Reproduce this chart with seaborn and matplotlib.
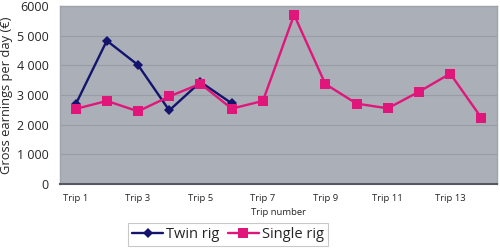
import matplotlib
matplotlib.use("Agg")
import matplotlib.pyplot as plt
import seaborn as sns
import pandas as pd
from matplotlib.ticker import FuncFormatter

trips = [f"Trip {i}" for i in range(1, 15)]
twin_rig = [2680, 4830, 4010, 2480, 3440, 2720]
single_rig = [2530, 2800, 2450, 2950, 3380, 2540, 2800, 5700, 3370, 2710, 2550, 3110, 3720, 2230]

sns.set_theme(style="white")
plt.rcParams['font.family'] = ['Open Sans', 'DejaVu Sans']

df_twin = pd.DataFrame({"trip": trips[:len(twin_rig)], "value": twin_rig})
df_single = pd.DataFrame({"trip": trips, "value": single_rig})

fig = plt.figure(figsize=(5.0, 2.49), dpi=100)
ax = fig.add_axes([0.12, 0.261, 0.874, 0.715])
ax.set_facecolor("#AAAFB8")

sns.lineplot(data=df_single, x="trip", y="value", ax=ax, color="#E0167A",
             marker="s", markersize=7, markeredgewidth=0, linewidth=1.7,
             label="Single rig", sort=False, zorder=3)
sns.lineplot(data=df_twin, x="trip", y="value", ax=ax, color="#14146E",
             marker="D", markersize=5.5, markeredgewidth=0, linewidth=1.7,
             label="Twin rig", sort=False, zorder=2)

ax.set_xlim(-0.5, len(trips) - 0.5)
ax.set_ylim(0, 6000)
ax.set_yticks([0, 1000, 2000, 3000, 4000, 5000, 6000])
ax.yaxis.set_major_formatter(FuncFormatter(lambda v, p: "6000" if v == 6000 else f"{int(v):,}".replace(",", " ")))
ax.set_xticks(range(0, len(trips), 2))
ax.set_xticklabels(trips[::2], fontsize=6.8)
ax.tick_params(axis="y", labelsize=9, length=0, pad=8)
ax.tick_params(axis="x", length=0, pad=7)
ax.grid(axis="y", color="#979CA5", linewidth=0.8)
ax.set_axisbelow(True)
for s in ["top", "right", "left"]:
    ax.spines[s].set_color("#9EA3AC")
    ax.spines[s].set_linewidth(1)
ax.spines["bottom"].set_color("#55585E")
ax.spines["bottom"].set_linewidth(1.5)

ax.set_xlabel("Trip number", fontsize=6.8, labelpad=4)
ax.set_ylabel("Gross earnings per day (€)", fontsize=9.3, labelpad=3)

handles, labels = ax.get_legend_handles_labels()
order = [labels.index("Twin rig"), labels.index("Single rig")]
leg = fig.legend([handles[i] for i in order], [labels[i] for i in order],
                 loc="center", bbox_to_anchor=(0.456, 0.058), ncol=2,
                 fontsize=10.5, frameon=True, fancybox=False, handlelength=2.1,
                 handletextpad=0.2, columnspacing=0.6, borderpad=0.3)
leg.get_frame().set_edgecolor("#BBBBBB")
leg.get_frame().set_linewidth(0.8)
if ax.get_legend():
    ax.get_legend().remove()

fig.savefig("out.png", dpi=100)
